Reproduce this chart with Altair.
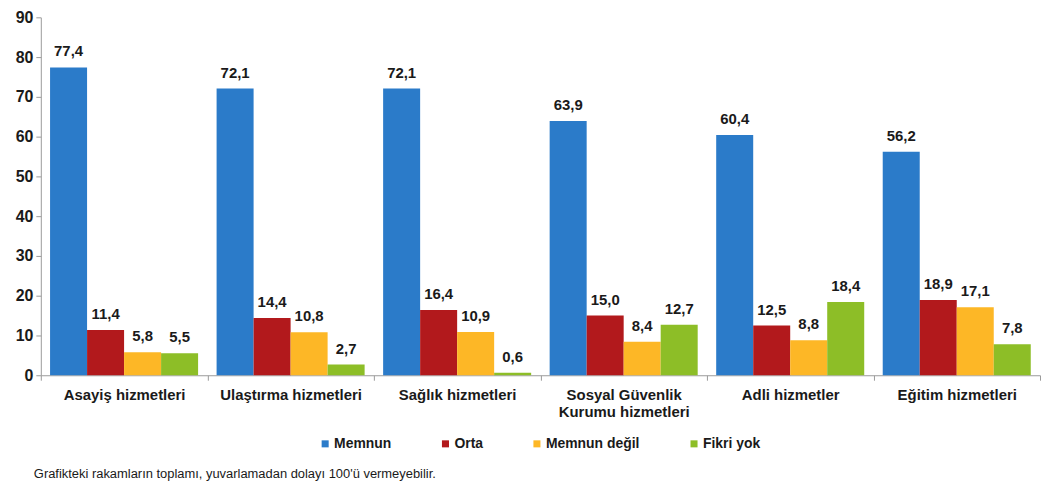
import altair as alt
import pandas as pd

categories = [
    "Asayiş hizmetleri",
    "Ulaştırma hizmetleri",
    "Sağlık hizmetleri",
    "Sosyal Güvenlik\nKurumu hizmetleri",
    "Adli hizmetler",
    "Eğitim hizmetleri",
]
series = ["Memnun", "Orta", "Memnun değil", "Fikri yok"]
memnun = [77.4, 72.1, 72.1, 63.9, 60.4, 56.2]
orta = [11.4, 14.4, 16.4, 15.0, 12.5, 18.9]
memnun_degil = [5.8, 10.8, 10.9, 8.4, 8.8, 17.1]
fikri_yok = [5.5, 2.7, 0.6, 12.7, 18.4, 7.8]
colors = ["#2B7BC9", "#B2191C", "#FDB726", "#8DBE27"]
y_ticks = [0, 10, 20, 30, 40, 50, 60, 70, 80, 90]
footnote = "Grafikteki rakamların toplamı, yuvarlamadan dolayı 100'ü vermeyebilir."

rows = []
for s, vals in zip(series, [memnun, orta, memnun_degil, fikri_yok]):
    for c, v in zip(categories, vals):
        rows.append({"Kategori": c, "Seri": s, "Değer": v,
                     "Etiket": f"{v:.1f}".replace(".", ",")})
df = pd.DataFrame(rows)

FONT = "Liberation Sans"

base = alt.Chart(df).encode(
    x=alt.X(
        "Kategori:N",
        sort=categories,
        scale=alt.Scale(paddingInner=0, paddingOuter=0),
        axis=alt.Axis(
            title=None, labelAngle=0, tickBand="extent",
            labelExpr="split(datum.label, '\\n')",
            labelFont=FONT, labelFontSize=15, labelFontWeight="bold",
            labelColor="#1a1a1a", labelPadding=7, labelLineHeight=18,
            domainColor="#9a9a9a", tickColor="#9a9a9a", tickSize=5,
        ),
    ),
    xOffset=alt.XOffset("Seri:N", sort=series,
                        scale=alt.Scale(paddingOuter=0.25, paddingInner=0)),
    y=alt.Y(
        "Değer:Q",
        scale=alt.Scale(domain=[0, 90]),
        axis=alt.Axis(
            title=None, values=y_ticks, grid=False,
            labelFont=FONT, labelFontSize=16, labelFontWeight="bold",
            labelColor="#1a1a1a", labelPadding=3,
            domainColor="#9a9a9a", tickColor="#9a9a9a", tickSize=5,
        ),
    ),
)

bars = base.mark_bar().encode(
    color=alt.Color(
        "Seri:N", sort=series,
        scale=alt.Scale(domain=series, range=colors),
        legend=alt.Legend(
            title=None, orient="none", direction="horizontal", columns=4,
            legendX=279, legendY=422, columnPadding=47,
            symbolType="square", symbolSize=50, symbolStrokeWidth=0,
            labelFont=FONT, labelFontSize=14, labelFontWeight="bold",
            labelColor="#1a1a1a", labelOffset=2,
        ),
    )
)

labels = base.mark_text(
    baseline="bottom", dy=-8, font=FONT, fontSize=15, fontWeight="bold",
    color="#1a1a1a",
).encode(text="Etiket:N")

note = alt.Chart(pd.DataFrame({"t": [footnote]})).mark_text(
    align="left", baseline="middle", font=FONT, fontSize=13, color="#1a1a1a",
).encode(text="t:N", x=alt.value(-7), y=alt.value(459))

chart = alt.layer(bars, labels, note).properties(
    width=1005, height=360,
    padding={"left": 7, "top": 0, "right": 0, "bottom": 0},
).configure_view(stroke=None)

chart.save("out.html", embed_options={"renderer": "svg", "actions": False})
